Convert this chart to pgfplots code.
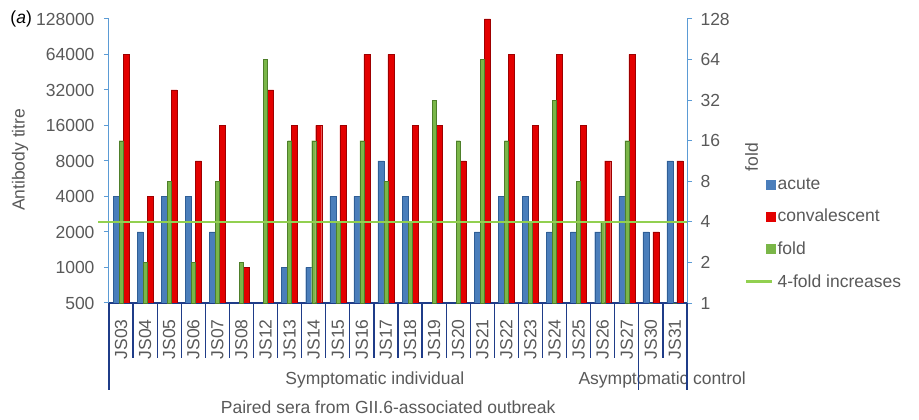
\documentclass[border=0pt]{standalone}
\usepackage{pgfplots}
\pgfplotsset{compat=1.18}
\usepackage{pgfplotstable}
\usepackage{fontspec}
\setmainfont{Liberation Sans}
\newcommand{\fs}{\fontsize{17.5bp}{21bp}\selectfont}
\definecolor{acuteblue}{HTML}{4A7EBB}
\definecolor{acuteedge}{HTML}{2F5E96}
\definecolor{convred}{HTML}{E30000}
\definecolor{convedge}{HTML}{9E0000}
\definecolor{foldgreen}{HTML}{7AB648}
\definecolor{foldedge}{HTML}{4E7F2A}
\definecolor{linegreen}{HTML}{92D050}
\definecolor{axblue}{HTML}{5B9BD5}
\definecolor{navy}{HTML}{1F3C88}
\definecolor{txt}{HTML}{595959}
\pgfplotstableread{
x acute conv fold
0 4000 64000 16
1 2000 4000 2
2 4000 32000 8
3 4000 8000 2
4 2000 16000 8
5 nan 1000 2
6 nan 32000 64
7 1000 16000 16
8 1000 16000 16
9 4000 16000 4
10 4000 64000 16
11 8000 64000 8
12 4000 16000 4
13 nan 16000 32
14 nan 8000 16
15 2000 128000 64
16 4000 64000 16
17 4000 16000 4
18 2000 64000 32
19 2000 16000 8
20 2000 8000 4
21 4000 64000 16
22 2000 2000 1
23 8000 8000 1
}\data
\begin{document}
\begin{tikzpicture}
\useasboundingbox (-109bp,-117bp) rectangle (810bp,303bp);
\begin{axis}[
  at={(0,0)}, anchor=south west, scale only axis,
  width=578bp, height=284bp,
  xmin=-0.5, xmax=23.5,
  ymode=log, log basis y=2, ymin=500, ymax=128000, log origin=infty,
  axis x line*=bottom, axis y line*=left,
  ybar,
  tick align=outside,
  /pgf/number format/assume math mode=true,
  xtick={0,...,23},
  xticklabels={JS03,JS04,JS05,JS06,JS07,JS08,JS12,JS13,JS14,JS15,JS16,JS17,JS18,JS19,JS20,JS21,JS22,JS23,JS24,JS25,JS26,JS27,JS30,JS31},
  x tick label style={rotate=90, anchor=east, text=txt, font=\fs},
  xticklabel shift=8bp,
  major x tick style={draw=none},
  minor xtick={-0.5,0.5,...,23.5},
  minor x tick style={draw=navy, line width=1.2bp},
  minor tick length=55bp,
  major tick length=5bp,
  x axis line style={draw=navy, line width=1.2bp},
  y axis line style={draw=axblue, line width=1bp},
  ytick={500,1000,2000,4000,8000,16000,32000,64000,128000},
  yticklabels={500,1000,2000,4000,8000,16000,32000,64000,128000},
  y tick label style={text=txt, font=\fs, xshift=-6bp},
  major y tick style={draw=axblue, line width=1bp},
  yminorticks=false,
  ylabel={Antibody titre},
  ylabel style={at={(axis description cs:-0.154,0.504)}, anchor=center, text=txt, font=\fs},
]
\addplot[fill=acuteblue, draw=acuteedge, bar width=6bp, bar shift=-5bp] table[x=x,y=acute]{\data};
\addplot[fill=convred, draw=convedge, bar width=6bp, bar shift=5bp] table[x=x,y=conv]{\data};
\end{axis}
\begin{axis}[
  at={(0,0)}, anchor=south west, scale only axis,
  width=578bp, height=284bp,
  xmin=-0.5, xmax=23.5,
  ymode=log, log basis y=2, ymin=1, ymax=128, log origin=infty,
  axis y line*=right, axis x line=none,
  ybar, clip=false,
  tick align=outside, major tick length=5bp,
  /pgf/number format/assume math mode=true,
  ytick={1,2,4,8,16,32,64,128},
  yticklabels={1,2,4,8,16,32,64,128},
  y tick label style={text=txt, font=\fs, xshift=5bp},
  major y tick style={draw=axblue, line width=1bp},
  y axis line style={draw=axblue, line width=1bp},
  yminorticks=false,
  ylabel={fold},
  ylabel style={at={(axis description cs:1.112,0.514)}, anchor=center, text=txt, font=\fs},
  legend style={at={(axis description cs:1.095,0.455)}, anchor=north west, draw=none, fill=none, font=\fs, text=txt, row sep=14.5bp},
  legend cell align=left,
]
\addlegendimage{legend image code/.code={\fill[acuteblue] (20bp,-4.5bp) rectangle (29bp,4.5bp);}}
\addlegendentry{acute}
\addlegendimage{legend image code/.code={\fill[convred] (20bp,-4.5bp) rectangle (29bp,4.5bp);}}
\addlegendentry{convalescent}
\addlegendimage{legend image code/.code={\fill[foldgreen] (20bp,-4.5bp) rectangle (29bp,4.5bp);}}
\addlegendentry{fold}
\addplot[fill=foldgreen, draw=foldedge, bar width=4bp, bar shift=0bp, forget plot] table[x=x,y=fold]{\data};
\addplot[linegreen, line width=2.5bp, sharp plot, no markers, legend image code/.code={\draw[draw=linegreen, line width=2.5bp] (0bp,0bp) -- (26bp,0bp);}] coordinates {(-0.95,4) (23.5,4)};
\addlegendentry{4-fold increases}
\node[font=\fs, text=txt] at (rel axis cs:0.46,-0.271) {Symptomatic individual};
\node[font=\fs, text=txt] at (rel axis cs:0.957,-0.271) {Asymptomatic control};
\node[font=\fs, text=txt] at (rel axis cs:0.483,-0.366) {Paired sera from GII.6-associated outbreak};
\node[font=\fs, text=black] at (rel axis cs:-0.152,1.0) {(\textit{a})};
\draw[navy, line width=1.2bp] (rel axis cs:0,0) -- ++(0bp,-87bp);
\draw[navy, line width=1.2bp] (rel axis cs:0.91667,0) -- ++(0bp,-87bp);
\draw[navy, line width=1.2bp] (rel axis cs:1,0) -- ++(0bp,-87bp);
\end{axis}
\end{tikzpicture}
\end{document}
